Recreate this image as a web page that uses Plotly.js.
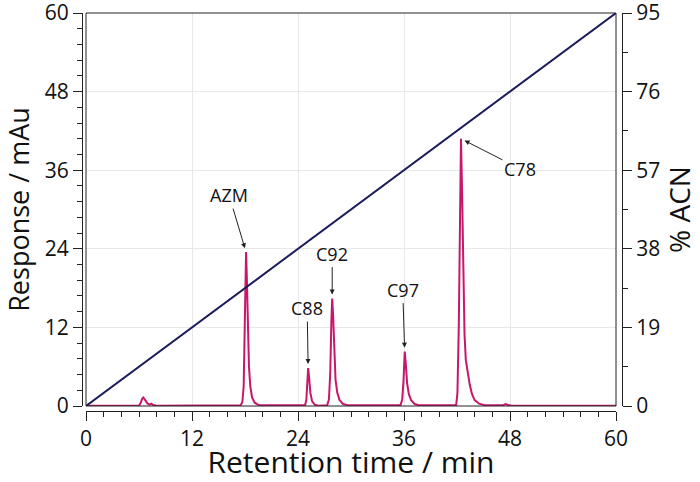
<!DOCTYPE html>
<html>
<head>
<meta charset="utf-8">
<script src="https://cdn.plot.ly/plotly-3.0.1.min.js"></script>
<style>html,body{margin:0;padding:0;background:#fff;}#chart{width:700px;height:482px;}</style>
</head>
<body>
<div id="chart"></div>
<script>
// Chromatogram (retention time in min, response in mAu)
var timeMin = [0, 6.0, 6.2, 6.35, 6.5, 6.7, 6.95, 7.2, 7.4, 7.6, 8.0,
  17.5, 17.7, 17.85, 17.95, 18.05, 18.12, 18.2, 18.3, 18.45, 18.6, 18.8, 19.1, 19.6,
  24.8, 24.95, 25.05, 25.15, 25.25, 25.4, 25.6, 25.9, 26.3,
  27.3, 27.5, 27.65, 27.78, 27.87, 27.97, 28.1, 28.25, 28.45, 28.7, 29.1, 29.7,
  35.6, 35.8, 35.95, 36.08, 36.2, 36.35, 36.55, 36.8, 37.2, 37.8,
  41.9, 42.05, 42.2, 42.32, 42.45, 42.57, 42.7, 42.85, 43.0, 43.2, 43.45, 43.7, 44.0, 44.5, 45.2,
  47.2, 47.5, 47.8, 48.2, 60];
var responseMAu = [0.05, 0.05, 0.5, 1.1, 1.3, 0.9, 0.4, 0.2, 0.35, 0.15, 0.05,
  0.1, 0.6, 3, 9, 19, 23.5, 20, 13, 6, 3, 1.3, 0.5, 0.1,
  0.1, 1, 3.5, 5.8, 4.5, 2, 0.7, 0.2, 0.05,
  0.1, 1, 5, 13, 16.4, 14, 8, 4, 2, 0.9, 0.3, 0.1,
  0.1, 1, 4, 8.3, 6.5, 3.5, 1.8, 0.9, 0.3, 0.1,
  0.1, 2, 12, 30, 40.8, 33, 20, 11, 7, 5, 3.2, 1.8, 0.9, 0.35, 0.1,
  0.1, 0.3, 0.15, 0.05, 0.05];

// ACN gradient
var acnTime = [0, 60];
var acnPercent = [0, 95];

// Peak labels
var peakLabels = ['AZM', 'C88', 'C92', 'C97', 'C78'];
var peakTimes = [18.12, 25.15, 27.87, 36.08, 42.45];
var peakHeights = [23.5, 5.8, 16.4, 8.3, 40.8];

// Tick labels
var leftTicks = [0, 12, 24, 36, 48, 60];
var rightTicks = [0, 19, 38, 57, 76, 95];
var xTicks = [0, 12, 24, 36, 48, 60];

var labelOffsets = [[-17, -57], [-1, -60], [0, -45], [-2, -62], [59, 30]];

var FONT = '"Open Sans", "DejaVu Sans", sans-serif';
var W = 540, H = 398;
var xd = [4 / W, 534 / W];
var yd = [5 / H, 1];

var annotations = peakLabels.map(function (lab, i) {
  return {
    x: peakTimes[i], y: peakHeights[i], xref: 'x', yref: 'y',
    text: lab, showarrow: true,
    ax: labelOffsets[i][0], ay: labelOffsets[i][1],
    arrowhead: 2, arrowsize: 1, arrowwidth: 1, arrowcolor: '#222',
    standoff: 4,
    font: {family: FONT, size: 18, color: '#111'}
  };
});

var axisCommon = {
  showline: true, linecolor: '#222', linewidth: 1,
  ticks: 'outside', ticklen: 9, tickwidth: 1, tickcolor: '#222',
  showgrid: true, gridcolor: '#e8e8e8', gridwidth: 1,
  zeroline: false, ticklabeloverflow: 'allow',
  tickfont: {family: FONT, size: 21, color: '#111'}
};

var layout = {
  width: 700, height: 482,
  margin: {l: 82, r: 78, t: 13, b: 71},
  paper_bgcolor: '#fff', plot_bgcolor: '#fff',
  showlegend: false,
  xaxis: Object.assign({}, axisCommon, {
    domain: xd, anchor: 'free', position: 0,
    range: [0, 60], tickmode: 'array', tickvals: xTicks,
    minor: {dtick: 2, tick0: 0, ticks: 'outside', ticklen: 5, tickcolor: '#222', showgrid: false},
    title: {text: 'Retention time / min', font: {family: FONT, size: 30, color: '#111'}, standoff: 4}
  }),
  yaxis: Object.assign({}, axisCommon, {
    domain: yd, anchor: 'free', position: 0,
    range: [0, 60], tickmode: 'array', tickvals: leftTicks,
    minor: {dtick: 2.4, tick0: 0, ticks: 'outside', ticklen: 5, tickcolor: '#222', showgrid: false},
    title: {text: 'Response / mAu', font: {family: FONT, size: 27, color: '#111'}, standoff: 8}
  }),
  yaxis2: Object.assign({}, axisCommon, {
    domain: yd, anchor: 'free', position: 1, overlaying: 'y', side: 'right',
    showgrid: false,
    range: [0, 95], tickmode: 'array', tickvals: rightTicks,
    minor: {dtick: 9.5, tick0: 0, ticks: 'outside', ticklen: 5, tickcolor: '#222', showgrid: false},
    title: {text: '% ACN', font: {family: FONT, size: 28, color: '#111'}, standoff: 11}
  }),
  shapes: [{
    type: 'rect', xref: 'paper', yref: 'paper',
    x0: xd[0], x1: xd[1], y0: yd[0], y1: yd[1],
    line: {color: '#222', width: 1}, layer: 'above'
  }],
  annotations: annotations
};

var traces = [
  {x: acnTime, y: acnPercent, xaxis: 'x', yaxis: 'y2', type: 'scatter', mode: 'lines',
   line: {color: '#1c1c5c', width: 2}, hoverinfo: 'skip'},
  {x: timeMin, y: responseMAu, xaxis: 'x', yaxis: 'y', type: 'scatter', mode: 'lines',
   line: {color: '#c8176a', width: 2}, hoverinfo: 'skip'}
];

Plotly.newPlot('chart', traces, layout, {displayModeBar: false, staticPlot: true});
</script>
</body>
</html>
